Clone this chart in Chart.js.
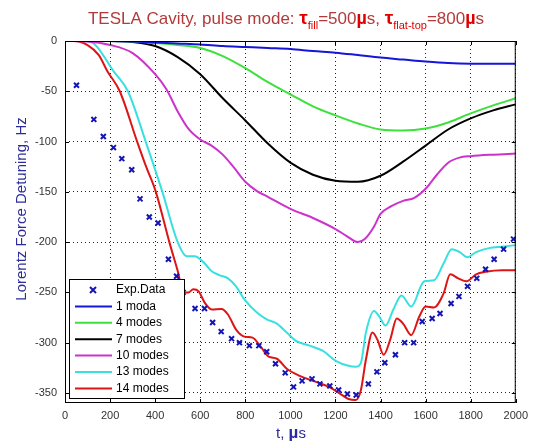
<!DOCTYPE html>
<html>
<head>
<meta charset="utf-8">
<script src="https://cdn.jsdelivr.net/npm/chart.js@4"></script>
<style>
  html, body { margin: 0; padding: 0; background: #fff; }
  #wrap { width: 534px; height: 443px; }
</style>
</head>
<body>
<div id="wrap"><canvas id="chart" width="534" height="443"></canvas></div>
<script>
const xTicks = [0, 200, 400, 600, 800, 1000, 1200, 1400, 1600, 1800, 2000];
const yTicks = [-350, -300, -250, -200, -150, -100, -50, 0];

const expT = [51, 128, 170, 215, 252, 296, 333, 374, 413, 459, 495, 524, 577, 619, 655, 693, 739, 774, 818, 860, 895, 934, 977, 1014, 1052, 1096, 1131, 1175, 1214, 1253, 1292, 1346, 1384, 1419, 1466, 1507, 1547, 1585, 1629, 1664, 1713, 1748, 1786, 1827, 1866, 1904, 1946, 1990];
const expV = [-44, -78, -95, -106, -117, -128, -157, -175, -181, -217, -234, -250, -266, -266, -280, -289, -296, -300, -303, -303, -309, -321, -330, -344, -338, -336, -341, -343, -347, -351, -352, -341, -329, -320, -312, -300, -300, -279, -276, -271, -261, -254, -244, -236, -227, -217, -207, -197];

const mode1T = [0, 200, 300, 400, 500, 600, 700, 800, 900, 1000, 1100, 1200, 1300, 1400, 1500, 1600, 1700, 1800, 2000];
const mode1V = [0, 0, -0.5, -1.5, -2.5, -3.5, -5, -6, -7, -8, -10, -11.6, -14, -16.5, -18.5, -20.5, -22, -22.5, -22.5];

const mode4T = [0, 200, 300, 400, 500, 600, 700, 800, 900, 1000, 1100, 1200, 1300, 1400, 1500, 1600, 1700, 1800, 1900, 2000];
const mode4V = [0, 0, -0.5, -2, -4, -7, -15, -27, -41, -53, -65, -74, -82, -88, -89, -87, -81, -72, -64, -57];

const mode7T = [0, 200, 300, 400, 500, 600, 700, 800, 900, 1000, 1100, 1200, 1300, 1400, 1500, 1600, 1700, 1800, 1900, 2000];
const mode7V = [0, 0, -1, -5, -16, -33, -57, -79, -102, -121, -133, -139, -140, -134, -120, -104, -88, -77, -69, -63];

const mode10T = [0, 100, 200, 300, 400, 450, 500, 550, 600, 650, 700, 750, 800, 850, 900, 1000, 1100, 1200, 1250, 1300, 1330, 1370, 1400, 1450, 1500, 1550, 1600, 1650, 1700, 1750, 1800, 1900, 2000];
const mode10V = [0, -0.5, -4, -12, -33, -48, -70, -88, -98, -104, -113, -126, -140, -149, -155, -167, -176, -187, -194, -200, -197, -185, -172, -164, -159, -156, -147, -133, -121, -116, -114.5, -113, -112];

const mode13T = [0, 80, 130, 215, 279, 358, 432, 500, 540, 575, 619, 651, 687, 723, 759, 796, 854, 897, 940, 984, 1027, 1085, 1143, 1201, 1258, 1290, 1313, 1335, 1371, 1393, 1422, 1457, 1493, 1536, 1594, 1637, 1680, 1716, 1752, 1784, 1824, 1881, 1939, 2000];
const mode13V = [0, 0, -3, -30, -50, -100, -150, -200, -214, -214, -221, -229, -233, -236, -244, -257, -270.5, -277, -281, -290, -298.5, -303, -308, -318, -323, -324, -320, -290, -268.5, -273.5, -283, -267, -253, -264, -239, -238, -221, -207, -210, -215, -210, -206, -204.5, -203];

const mode14T = [0, 40, 100, 150, 188, 243, 320, 360, 403, 463, 498, 528, 548, 569, 593, 622, 651, 694, 723, 759, 796, 832, 868, 904, 940, 984, 1041, 1114, 1171, 1215, 1258, 1290, 1313, 1335, 1364, 1386, 1414, 1443, 1472, 1500, 1536, 1572, 1600, 1637, 1680, 1709, 1745, 1781, 1824, 1867, 1939, 2000];
const mode14V = [0, 0, -4, -14, -30, -50, -100, -125, -150, -200, -227, -250, -250, -247, -249, -261, -267, -266.5, -272, -287, -294, -295, -304, -314, -316, -326, -333, -339, -344, -350, -356, -357, -347, -317, -290, -297, -312, -297, -276, -281, -292.5, -274, -264, -265, -251, -232, -236, -239, -232, -229.5, -228, -228];

const FONT = "'Liberation Sans', Arial, sans-serif";

function pts(ts, vs) {
	return ts.map((t, i) => ({ x: t, y: vs[i] }));
}

function curve(label, ts, vs, color) {
	return {
		label: label,
		data: pts(ts, vs),
		borderColor: color,
		backgroundColor: color,
		borderWidth: 2,
		pointRadius: 0,
		cubicInterpolationMode: 'monotone',
		fill: false
	};
}

const datasets = [
	{
		label: 'Exp.Data',
		data: pts(expT, expV),
		showLine: false,
		pointStyle: 'crossRot',
		pointRadius: 3.5,
		borderWidth: 2,
		borderColor: '#1515b5',
		backgroundColor: '#1515b5'
	},
	curve('1 moda', mode1T, mode1V, '#1616d8'),
	curve('4 modes', mode4T, mode4V, '#3ee03e'),
	curve('7 modes', mode7T, mode7V, '#000000'),
	curve('10 modes', mode10T, mode10V, '#cc33cc'),
	curve('13 modes', mode13T, mode13V, '#38e0e0'),
	curve('14 modes', mode14T, mode14V, '#dd1515')
];

// title, axis labels, frame, inner ticks and legend, MATLAB style
const decor = {
	id: 'decor',
	afterDraw(chart) {
		const ctx = chart.ctx;
		const a = chart.chartArea;
		const xs = chart.scales.x, ys = chart.scales.y;
		ctx.save();

		// frame
		ctx.strokeStyle = '#000';
		ctx.lineWidth = 1;
		ctx.setLineDash([]);
		ctx.strokeRect(a.left + 0.5, a.top + 0.5, a.right - a.left - 1, a.bottom - a.top - 1);

		// inner tick marks
		ctx.beginPath();
		xTicks.forEach(t => {
			const px = Math.round(xs.getPixelForValue(t)) + 0.5;
			ctx.moveTo(px, a.bottom); ctx.lineTo(px, a.bottom - 4);
			ctx.moveTo(px, a.top); ctx.lineTo(px, a.top + 4);
		});
		yTicks.forEach(v => {
			const py = Math.round(ys.getPixelForValue(v)) + 0.5;
			ctx.moveTo(a.left, py); ctx.lineTo(a.left + 4, py);
			ctx.moveTo(a.right, py); ctx.lineTo(a.right - 4, py);
		});
		ctx.stroke();

		// title with subscripts
		const dark = '#b33a3a', red = '#e00000';
		const segs = [
			['TESLA Cavity, pulse mode: ', '17px ' + FONT, dark, 0],
			['\u03c4', 'bold 19px ' + FONT, red, 0],
			['fill', '11px ' + FONT, red, 5],
			['=500', '17px ' + FONT, dark, 0],
			['\u00b5', 'bold 18px ' + FONT, red, 0],
			['s, ', '17px ' + FONT, dark, 0],
			['\u03c4', 'bold 19px ' + FONT, red, 0],
			['flat-top', '11px ' + FONT, red, 5],
			['=800', '17px ' + FONT, dark, 0],
			['\u00b5', 'bold 18px ' + FONT, red, 0],
			['s', '17px ' + FONT, dark, 0]
		];
		let total = 0;
		segs.forEach(s => { ctx.font = s[1]; total += ctx.measureText(s[0]).width; });
		let x = 286 - total / 2;
		ctx.textBaseline = 'alphabetic';
		ctx.textAlign = 'left';
		segs.forEach(s => {
			ctx.font = s[1];
			ctx.fillStyle = s[2];
			ctx.fillText(s[0], x, 24 + s[3]);
			x += ctx.measureText(s[0]).width;
		});

		// y axis label
		ctx.save();
		ctx.translate(26, 209);
		ctx.rotate(-Math.PI / 2);
		ctx.font = '15px ' + FONT;
		ctx.fillStyle = '#2c2c9c';
		ctx.textAlign = 'center';
		ctx.fillText('Lorentz Force Detuning, Hz', 0, 0);
		ctx.restore();

		// x axis label "t, µs"
		const xl = [['t, ', '15px ' + FONT], ['\u00b5', 'bold 17px ' + FONT], ['s', '15px ' + FONT]];
		let w = 0;
		xl.forEach(s => { ctx.font = s[1]; w += ctx.measureText(s[0]).width; });
		x = 291 - w / 2;
		ctx.fillStyle = '#2c2c9c';
		xl.forEach(s => {
			ctx.font = s[1];
			ctx.fillText(s[0], x, 438);
			x += ctx.measureText(s[0]).width;
		});

		// legend box
		const lx = 69, ly = 279, lw = 115, lh = 119;
		ctx.fillStyle = '#fff';
		ctx.fillRect(lx, ly, lw, lh);
		ctx.strokeStyle = '#000';
		ctx.lineWidth = 1;
		ctx.strokeRect(lx + 0.5, ly + 0.5, lw, lh);
		ctx.font = '12px ' + FONT;
		ctx.textBaseline = 'middle';
		chart.data.datasets.forEach((ds, i) => {
			const ry = 290 + i * 16.4;
			ctx.strokeStyle = ds.borderColor;
			ctx.lineWidth = 2;
			ctx.beginPath();
			if (i === 0) {
				ctx.moveTo(90, ry - 3); ctx.lineTo(96, ry + 3);
				ctx.moveTo(96, ry - 3); ctx.lineTo(90, ry + 3);
			} else {
				ctx.moveTo(75, ry); ctx.lineTo(112, ry);
			}
			ctx.stroke();
			ctx.fillStyle = '#000';
			ctx.fillText(ds.label, 116, ry);
		});

		ctx.restore();
	}
};

new Chart(document.getElementById('chart').getContext('2d'), {
	type: 'line',
	data: { datasets },
	options: {
		responsive: false,
		animation: false,
		layout: { padding: { top: 41, right: 11, left: 0, bottom: 0 } },
		plugins: {
			legend: { display: false },
			title: { display: false },
			tooltip: { enabled: false }
		},
		scales: {
			x: {
				type: 'linear',
				min: 0,
				max: 2000,
				afterBuildTicks: s => { s.ticks = xTicks.map(v => ({ value: v })); },
				afterFit: s => { s.height = 40; },
				grid: { color: '#222', lineWidth: 1, drawTicks: false },
				border: { display: false, dash: [1, 3] },
				ticks: {
					padding: 6, color: '#333', maxRotation: 0,
					font: { family: FONT, size: 11 },
					callback: v => String(v)
				}
			},
			y: {
				type: 'linear',
				min: -360,
				max: 0,
				afterBuildTicks: s => { s.ticks = yTicks.map(v => ({ value: v })); },
				afterFit: s => { s.width = 65; },
				grid: { color: '#222', lineWidth: 1, drawTicks: false },
				border: { display: false, dash: [1, 3] },
				ticks: {
					padding: 8, color: '#333',
					font: { family: FONT, size: 11 },
					callback: v => String(v)
				}
			}
		}
	},
	plugins: [decor]
});
</script>
</body>
</html>
